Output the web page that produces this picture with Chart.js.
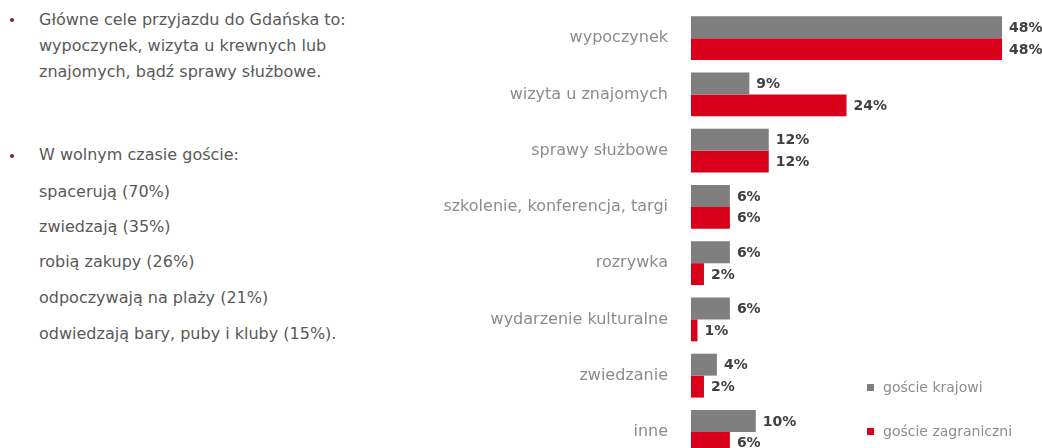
<!DOCTYPE html>
<html lang="pl">
  <head>
    <meta charset="utf-8">
    <script src="https://cdn.jsdelivr.net/npm/chart.js@4.4.1/dist/chart.umd.min.js"></script>
    <title>Cele przyjazdu do Gdańska</title>
    <style>
      html, body { margin:0; padding:0; background:#fff; width:1042px; height:448px; overflow:hidden; }
      .txt { position:absolute; left:39px; font-family:"DejaVu Sans", sans-serif; font-size:16px; color:#595959; white-space:nowrap; line-height:18px; }
      .dot { position:absolute; left:10px; width:4px; height:4px; border-radius:2px; background:#8b1a3a; }
      #myChart { position:absolute; left:380px; top:0; }
      .leg { position:absolute; left:867px; font-family:"DejaVu Sans", sans-serif; font-size:14px; color:#8c8c8c; white-space:nowrap; line-height:16px; }
      .leg i { display:inline-block; width:7px; height:7px; margin-right:9px; vertical-align:1px; }
    </style>
  </head>
  <body>
    <div class="dot" style="top:18px"></div>
    <div class="txt" style="top:11px">Główne cele przyjazdu do Gdańska to:</div>
    <div class="txt" style="top:37px">wypoczynek, wizyta u krewnych lub</div>
    <div class="txt" style="top:63px">znajomych, bądź sprawy służbowe.</div>

    <div class="dot" style="top:154px"></div>
    <div class="txt" style="top:146px">W wolnym czasie goście:</div>
    <div class="txt" style="top:183px">spacerują (70%)</div>
    <div class="txt" style="top:218px">zwiedzają (35%)</div>
    <div class="txt" style="top:253px">robią zakupy (26%)</div>
    <div class="txt" style="top:289px">odpoczywają na plaży (21%)</div>
    <div class="txt" style="top:325px">odwiedzają bary, puby i kluby (15%).</div>

    <canvas id="myChart" width="662" height="460"></canvas>
    <div id="legend"></div>

    <script>
      var categories = ['wypoczynek', 'wizyta u znajomych', 'sprawy służbowe', 'szkolenie, konferencja, targi',
                        'rozrywka', 'wydarzenie kulturalne', 'zwiedzanie', 'inne'];
      var krajowi = [48, 9, 12, 6, 6, 6, 4, 10];
      var zagraniczni = [48, 24, 12, 6, 2, 1, 2, 6];
      var seriesNames = ['goście krajowi', 'goście zagraniczni'];
      var seriesColors = ['#7f7f7f', '#d9001b'];

      // value labels at the end of every bar
      var barLabels = {
        id: 'barLabels',
        afterDatasetsDraw: function(chart) {
          var ctx = chart.ctx;
          ctx.save();
          ctx.font = 'bold 14px "DejaVu Sans", sans-serif';
          ctx.fillStyle = '#404040';
          ctx.textAlign = 'left';
          ctx.textBaseline = 'middle';
          chart.data.datasets.forEach(function(ds, di) {
            chart.getDatasetMeta(di).data.forEach(function(bar, i) {
              ctx.fillText(ds.data[i] + '%', bar.x + 7, bar.y + 1);
            });
          });
          ctx.restore();
        }
      };

      var chart = new Chart(document.getElementById('myChart'), {
        type: 'bar',
        data: {
          labels: categories,
          datasets: [
            { label: seriesNames[0], data: krajowi, backgroundColor: seriesColors[0] },
            { label: seriesNames[1], data: zagraniczni, backgroundColor: seriesColors[1] }
          ]
        },
        options: {
          indexAxis: 'y',
          responsive: false,
          animation: false,
          layout: { padding: { top: 10, right: 27, bottom: 0, left: 0 } },
          datasets: { bar: { categoryPercentage: 0.78, barPercentage: 1.0 } },
          plugins: { legend: { display: false }, tooltip: { enabled: false } },
          scales: {
            x: { min: 0, max: 50, display: false },
            y: {
              grid: { display: false, drawTicks: false },
              border: { display: false },
              ticks: { padding: 23, color: '#8c8c8c', font: { family: '"DejaVu Sans", sans-serif', size: 16 } },
              afterFit: function(scale) {
                scale.width = 311;
                scale.paddingTop = 0;
                scale.paddingBottom = 0;
              }
            }
          }
        },
        plugins: [barLabels]
      });

      var legend = document.getElementById('legend');
      var tops = [379, 423];
      seriesNames.forEach(function(name, i) {
        var d = document.createElement('div');
        d.className = 'leg';
        d.style.top = tops[i] + 'px';
        d.innerHTML = '<i style="background:' + seriesColors[i] + '"></i>' + name;
        legend.appendChild(d);
      });
    </script>
  </body>
</html>
